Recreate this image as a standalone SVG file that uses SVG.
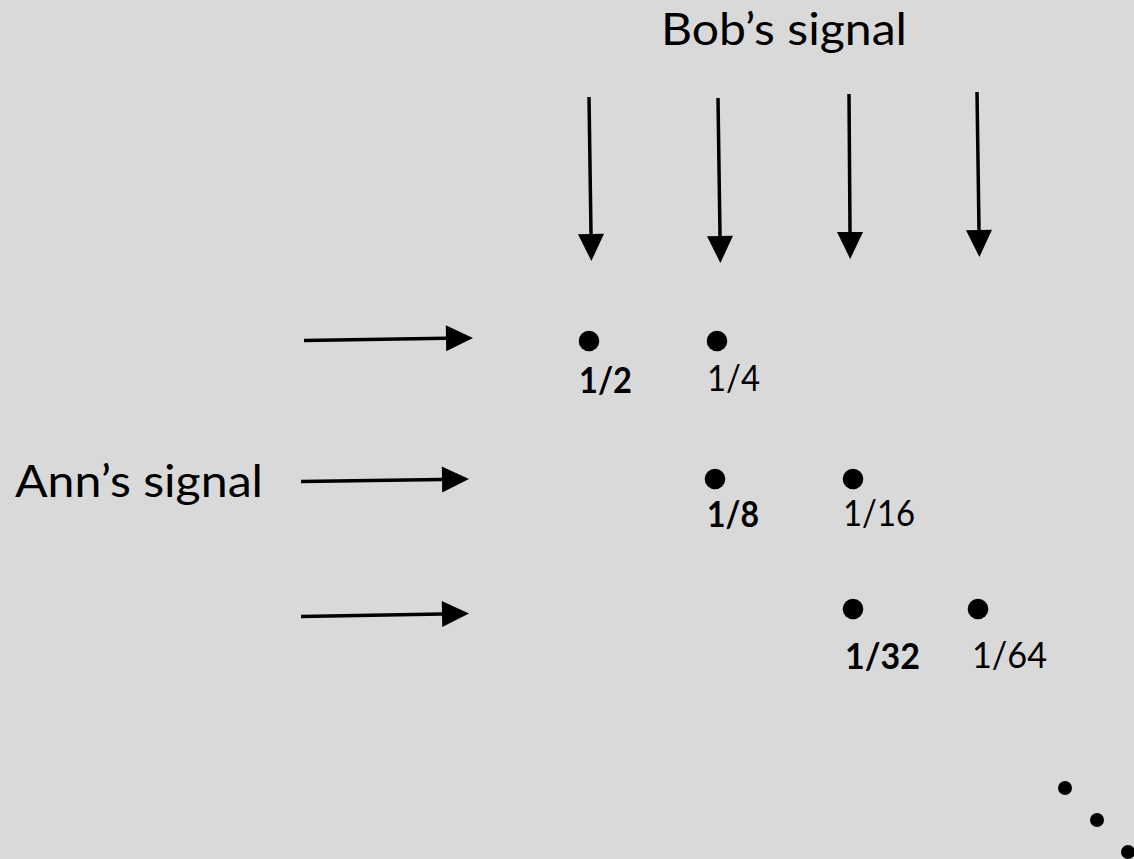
<svg xmlns="http://www.w3.org/2000/svg" width="1134" height="859" viewBox="0 0 1134 859">
<defs>
<marker id="ah" markerUnits="userSpaceOnUse" markerWidth="27" markerHeight="26" refX="0" refY="13" orient="auto" overflow="visible">
<path d="M0,0 L27,13 L0,26 Z" fill="#000"/>
</marker>
<style>
.t{font-family:Lato,"Open Sans","Liberation Sans",sans-serif;fill:#000}
.big{font-size:45px}
.lab{font-size:36px}
.b{font-weight:bold}
.c{stroke:#000;stroke-width:3.5;fill:none;marker-end:url(#ah)}
.dot{fill:#000}
</style>
</defs>
<rect width="1134" height="859" fill="#d9d9d9"/>
<g id="titles">
<text class="t big" x="661" y="45" textLength="246" lengthAdjust="spacingAndGlyphs">Bob’s signal</text>
<text class="t big" x="15" y="497" textLength="248" lengthAdjust="spacingAndGlyphs">Ann’s signal</text>
</g>
<g id="connectors">
<line class="c" x1="589" y1="97" x2="591" y2="234"/>
<line class="c" x1="718" y1="98" x2="720" y2="236"/>
<line class="c" x1="849" y1="94" x2="850" y2="232"/>
<line class="c" x1="977" y1="92" x2="979" y2="230"/>
<line class="c" x1="304" y1="340.5" x2="446" y2="338.3"/>
<line class="c" x1="301" y1="481.5" x2="442" y2="479.5"/>
<line class="c" x1="301" y1="616.5" x2="442" y2="614"/>
</g>
<g id="n12"><circle class="dot" cx="589" cy="341" r="10.3"/><text class="t lab b" x="579" y="393" textLength="53" lengthAdjust="spacingAndGlyphs">1/2</text></g>
<g id="n14"><circle class="dot" cx="717" cy="341" r="10.3"/><text class="t lab" x="707" y="391" textLength="53" lengthAdjust="spacingAndGlyphs">1/4</text></g>
<g id="n18"><circle class="dot" cx="715" cy="479" r="10.3"/><text class="t lab b" x="707" y="527" textLength="52" lengthAdjust="spacingAndGlyphs">1/8</text></g>
<g id="n116"><circle class="dot" cx="853" cy="479" r="10.3"/><text class="t lab" x="843" y="526" textLength="72" lengthAdjust="spacingAndGlyphs">1/16</text></g>
<g id="n132"><circle class="dot" cx="853" cy="609" r="10.3"/><text class="t lab b" x="845" y="669" textLength="75" lengthAdjust="spacingAndGlyphs">1/32</text></g>
<g id="n164"><circle class="dot" cx="978" cy="609" r="10.3"/><text class="t lab" x="972" y="668" textLength="75" lengthAdjust="spacingAndGlyphs">1/64</text></g>
<g id="ellipsis">
<circle class="dot" cx="1065" cy="788" r="7"/>
<circle class="dot" cx="1097" cy="820" r="7"/>
<circle class="dot" cx="1128" cy="852" r="7"/>
</g>
</svg>
